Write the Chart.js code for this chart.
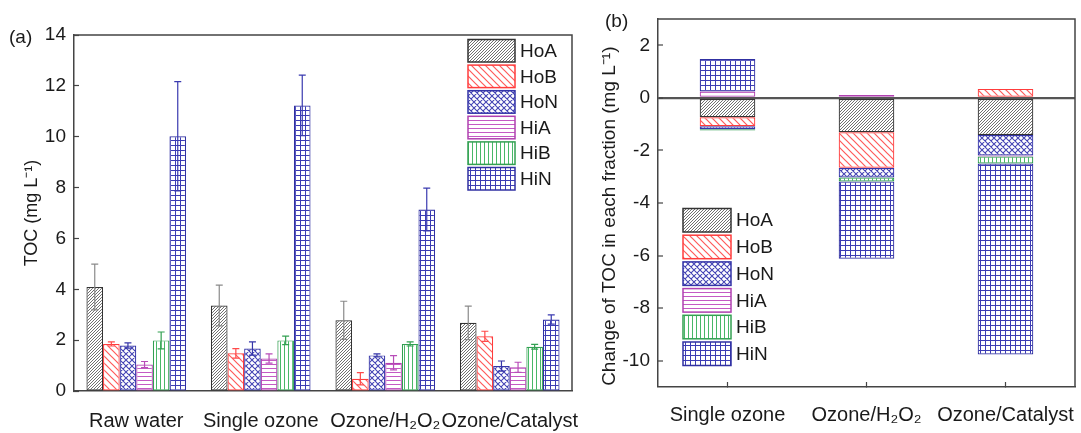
<!DOCTYPE html>
<html><head><meta charset="utf-8">
<script src="https://cdn.jsdelivr.net/npm/chart.js@4.4.1/dist/chart.umd.min.js"></script>
<style>
html,body{margin:0;padding:0;background:#fff;}
#wrap{position:relative;width:1081px;height:433px;overflow:hidden;}
canvas{position:absolute;top:0;}
</style>
</head><body>
<div id="wrap">
<canvas id="ca" width="580" height="433" style="left:0"></canvas>
<canvas id="cb" width="501" height="433" style="left:580px"></canvas>
</div>
<script>
// ---------- data ----------
const seriesNames = ['HoA','HoB','HoN','HiA','HiB','HiN'];

const categoriesA = ['Raw water','Single ozone','Ozone/H\u2082O\u2082','Ozone/Catalyst'];
const HoA = [4.09, 3.36, 2.78, 2.68];
const HoB = [1.85, 1.48, 0.48, 2.15];
const HoN = [1.79, 1.67, 1.40, 0.98];
const HiA = [1.04, 1.28, 1.11, 0.93];
const HiB = [1.99, 1.99, 1.85, 1.74];
const HiN = [10.02, 11.23, 7.14, 2.81];
const HoA_err = [0.90, 0.80, 0.75, 0.66];
const HoB_err = [0.08, 0.19, 0.24, 0.20];
const HoN_err = [0.10, 0.26, 0.06, 0.20];
const HiA_err = [0.12, 0.18, 0.28, 0.20];
const HiB_err = [0.33, 0.17, 0.08, 0.09];
const HiN_err = [2.15, 1.19, 0.84, 0.18];
const ticksA = [0, 2, 4, 6, 8, 10, 12, 14];

const categoriesB = ['Single ozone','Ozone/H\u2082O\u2082','Ozone/Catalyst'];
const dHoA = [-0.74, -1.31, -1.41];
const dHoB = [-0.34, -1.35, 0.34];
const dHoN = [-0.11, -0.37, -0.78];
const dHiA = [0.24, 0.11, -0.04];
const dHiB = [-0.05, -0.15, -0.27];
const dHiN = [1.24, -2.94, -7.26];
const ticksB = [-10, -8, -6, -4, -2, 0, 2];

// ---------- styles ----------
const FONT = '"Liberation Sans", Arial, sans-serif';
const TXT = '#1a1a1a';
const styles = {
  HoA: {kind:'fwd',   line:'#606060', border:'#333333', err:'#8a8a8a'},
  HoB: {kind:'back',  line:'#ff5a5a', border:'#ff3c3c', err:'#ff4a4a'},
  HoN: {kind:'cross', line:'#4545b5', border:'#3535a8', err:'#3535a8'},
  HiA: {kind:'horiz', line:'#c45ac4', border:'#b040b0', err:'#b84cb8'},
  HiB: {kind:'vert',  line:'#48b868', border:'#33a052', err:'#33a052'},
  HiN: {kind:'grid',  line:'#3c3cb4', border:'#3030a2', err:'#3a3ab0'}
};

function makePattern(kind, color) {
  const c = document.createElement('canvas');
  let s = 3;
  if (kind === 'back') s = 7;
  if (kind === 'cross') s = 6;
  if (kind === 'grid') s = 5;
  if (kind === 'horiz' || kind === 'vert') s = 4;
  c.width = s; c.height = s;
  const g = c.getContext('2d');
  g.fillStyle = '#ffffff'; g.fillRect(0,0,s,s);
  g.strokeStyle = color;
  g.beginPath();
  if (kind === 'fwd') {
    g.lineWidth = 0.9;
    g.moveTo(0,s); g.lineTo(s,0);
    g.moveTo(-s,s); g.lineTo(s,-s);
    g.moveTo(0,2*s); g.lineTo(2*s,0);
  } else if (kind === 'back') {
    g.lineWidth = 1.2;
    g.moveTo(0,0); g.lineTo(s,s);
    g.moveTo(-s,0); g.lineTo(s,2*s);
    g.moveTo(0,-s); g.lineTo(2*s,s);
  } else if (kind === 'cross') {
    g.lineWidth = 1.1;
    g.moveTo(0,0); g.lineTo(s,s);
    g.moveTo(-s,0); g.lineTo(s,2*s);
    g.moveTo(0,-s); g.lineTo(2*s,s);
    g.moveTo(0,s); g.lineTo(s,0);
    g.moveTo(-s,s); g.lineTo(s,-s);
    g.moveTo(0,2*s); g.lineTo(2*s,0);
  } else if (kind === 'horiz') {
    g.lineWidth = 1;
    g.moveTo(0,0.5); g.lineTo(s,0.5);
  } else if (kind === 'vert') {
    g.lineWidth = 1;
    g.moveTo(0.5,0); g.lineTo(0.5,s);
  } else if (kind === 'grid') {
    g.lineWidth = 1;
    g.moveTo(0,0.5); g.lineTo(s,0.5);
    g.moveTo(0.5,0); g.lineTo(0.5,s);
  }
  g.stroke();
  return g.createPattern(c, 'repeat');
}

// ---------- plugins ----------
const framePlugin = {
  id: 'frame',
  afterDraw(chart) {
    const {ctx, chartArea: a} = chart;
    ctx.save();
    ctx.strokeStyle = '#444'; ctx.lineWidth = 1.5;
    ctx.beginPath();
    ctx.moveTo(a.left, a.top); ctx.lineTo(a.right, a.top); ctx.lineTo(a.right, a.bottom);
    ctx.stroke();
    ctx.restore();
  }
};

const legendPlugin = {
  id: 'boxLegend',
  afterDraw(chart, args, o) {
    const ctx = chart.ctx;
    ctx.save();
    chart.data.datasets.forEach((ds, i) => {
      const y = o.y + i * o.pitch;
      ctx.fillStyle = ds.backgroundColor;
      ctx.fillRect(o.x, y, o.w, o.h);
      ctx.strokeStyle = ds.borderColor; ctx.lineWidth = 1.5;
      ctx.strokeRect(o.x, y, o.w, o.h);
      ctx.fillStyle = TXT;
      ctx.font = '19px ' + FONT;
      ctx.textBaseline = 'middle'; ctx.textAlign = 'left';
      ctx.fillText(ds.label, o.x + o.w + 5, y + o.h / 2 + 1);
    });
    ctx.font = '19px ' + FONT;
    ctx.fillStyle = TXT;
    ctx.textBaseline = 'middle'; ctx.textAlign = 'left';
    ctx.fillText(o.tag, o.tagX, o.tagY);
    ctx.restore();
  }
};

const errorBarPlugin = {
  id: 'errBars',
  afterDatasetsDraw(chart) {
    const ctx = chart.ctx, ys = chart.scales.y;
    chart.data.datasets.forEach((ds, i) => {
      if (!ds.errors) return;
      const meta = chart.getDatasetMeta(i);
      meta.data.forEach((el, j) => {
        const v = ds.data[j], e = ds.errors[j];
        const yTop = ys.getPixelForValue(v + e), yBot = ys.getPixelForValue(v - e);
        const x = el.x;
        ctx.save();
        ctx.strokeStyle = ds.errColor; ctx.lineWidth = 1.2;
        ctx.beginPath();
        ctx.moveTo(x, yTop); ctx.lineTo(x, yBot);
        ctx.moveTo(x - 3.5, yTop); ctx.lineTo(x + 3.5, yTop);
        ctx.moveTo(x - 3.5, yBot); ctx.lineTo(x + 3.5, yBot);
        ctx.stroke();
        ctx.restore();
      });
    });
  }
};

const noPadX = s => { s.paddingLeft = 0; s.paddingRight = 0; };
const noPadY = s => { s.paddingTop = 0; s.paddingBottom = 0; };

// ---------- chart A ----------
const valsA = {HoA, HoB, HoN, HiA, HiB, HiN};
const errsA = {HoA: HoA_err, HoB: HoB_err, HoN: HoN_err, HiA: HiA_err, HiB: HiB_err, HiN: HiN_err};
const dsA = seriesNames.map(n => ({
  label: n,
  data: valsA[n],
  errors: errsA[n],
  errColor: styles[n].err,
  backgroundColor: makePattern(styles[n].kind, styles[n].line),
  borderColor: styles[n].border,
  borderWidth: 1.2,
  borderSkipped: false,
  categoryPercentage: 0.8,
  barPercentage: 1.0
}));

new Chart(document.getElementById('ca'), {
  type: 'bar',
  data: {labels: categoriesA, datasets: dsA},
  plugins: [framePlugin, errorBarPlugin, legendPlugin],
  options: {
    responsive: false, animation: false,
    layout: {padding: {top: 35, right: 8, left: 0, bottom: 0}},
    plugins: {
      legend: {display: false}, tooltip: {enabled: false},
      boxLegend: {x: 468, y: 39.5, w: 47, h: 22.5, pitch: 25.6, tag: '(a)', tagX: 9, tagY: 38}
    },
    scales: {
      x: {
        grid: {display: false},
        border: {color: '#444', width: 1.5},
        ticks: {font: {family: FONT, size: 20}, color: TXT, padding: 10, maxRotation: 0, autoSkip: false},
        afterFit: s => { s.height = 42; noPadX(s); }
      },
      y: {
        min: 0, max: 14,
        afterBuildTicks: s => { s.ticks = ticksA.map(v => ({value: v})); },
        grid: {drawOnChartArea: false, tickLength: -5, tickColor: '#444', tickWidth: 1.2},
        border: {color: '#444', width: 1.5},
        ticks: {font: {family: FONT, size: 19}, color: TXT, padding: 13},
        title: {display: true, text: 'TOC (mg L\u207B\u00B9)', font: {family: FONT, size: 18}, color: TXT, padding: {top: 21, bottom: 0}},
        afterFit: s => { s.width = 74; noPadY(s); }
      }
    }
  }
});

// ---------- chart B ----------
const valsB = {HoA: dHoA, HoB: dHoB, HoN: dHoN, HiA: dHiA, HiB: dHiB, HiN: dHiN};
const dsB = seriesNames.map(n => ({
  label: n,
  data: valsB[n],
  backgroundColor: makePattern(styles[n].kind, styles[n].line),
  borderColor: styles[n].border,
  borderWidth: 1.2,
  borderSkipped: false,
  categoryPercentage: 0.4,
  barPercentage: 1.0
}));

new Chart(document.getElementById('cb'), {
  type: 'bar',
  data: {labels: categoriesB, datasets: dsB},
  plugins: [framePlugin, legendPlugin],
  options: {
    responsive: false, animation: false,
    layout: {padding: {top: 19, right: 6, left: 0, bottom: 0}},
    plugins: {
      legend: {display: false}, tooltip: {enabled: false},
      boxLegend: {x: 103, y: 208.5, w: 48, h: 23.5, pitch: 26.7, tag: '(b)', tagX: 25, tagY: 22}
    },
    scales: {
      x: {
        stacked: true,
        grid: {offset: false, drawOnChartArea: false, tickLength: -5, tickColor: '#444', tickWidth: 1.2},
        border: {color: '#444', width: 1.5},
        ticks: {font: {family: FONT, size: 20}, color: TXT, padding: 21, maxRotation: 0, autoSkip: false},
        afterFit: s => { s.height = 46; noPadX(s); }
      },
      y: {
        stacked: true,
        min: -11, max: 3,
        z: 1,
        afterBuildTicks: s => { s.ticks = ticksB.map(v => ({value: v})); },
        grid: {
          drawOnChartArea: true, tickLength: -5, tickColor: '#444', tickWidth: 1.2,
          color: c => (c.tick && c.tick.value === 0) ? '#555' : 'rgba(0,0,0,0)',
          lineWidth: c => (c.tick && c.tick.value === 0) ? 2.2 : 0
        },
        border: {color: '#444', width: 1.5},
        ticks: {font: {family: FONT, size: 19}, color: TXT, padding: 13},
        title: {display: true, text: 'Change of TOC in each fraction (mg L\u207B\u00B9)     ', font: {family: FONT, size: 19}, color: TXT, padding: {top: 18, bottom: 0}},
        afterFit: s => { s.width = 78; noPadY(s); }
      }
    }
  }
});
</script>
</body></html>
